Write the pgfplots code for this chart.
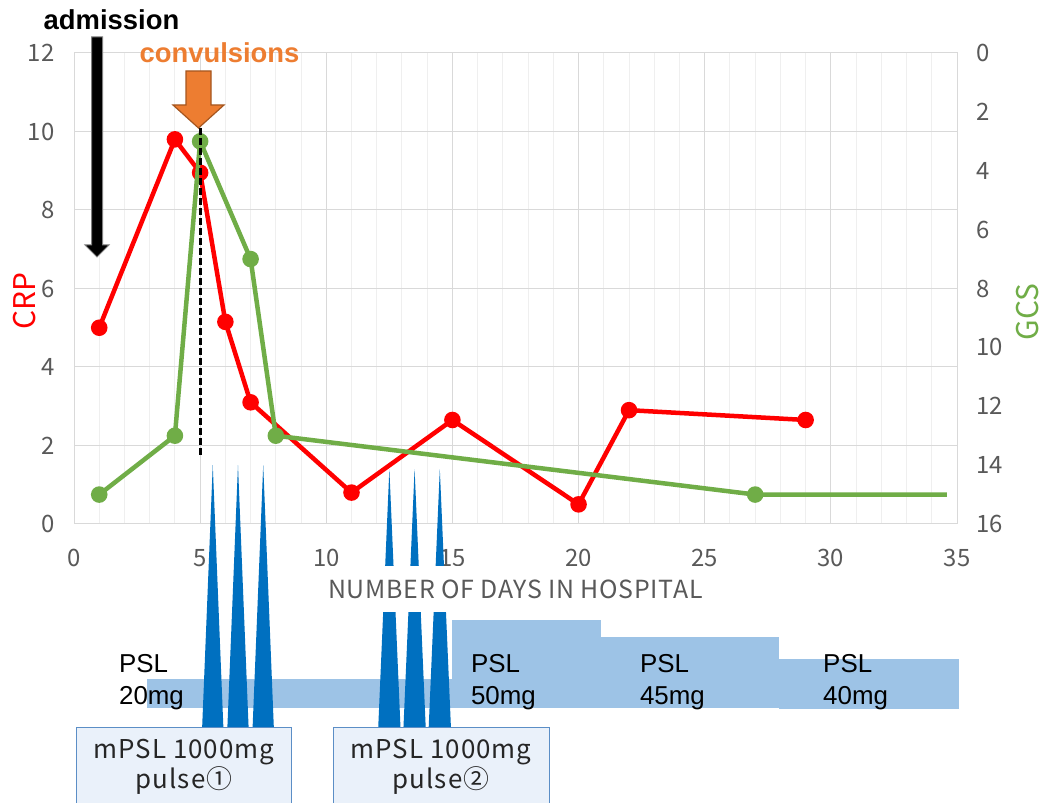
\documentclass[border=0pt]{standalone}
\usepackage{pgfplots}
\pgfplotsset{compat=1.18}
\usepackage{fontspec}
\setmainfont{Liberation Sans}
\newfontfamily\jpfont{Noto Sans CJK JP}

\definecolor{crpred}{HTML}{FF0000}
\definecolor{gcsgreen}{HTML}{70AD47}
\definecolor{tickgray}{HTML}{595959}
\definecolor{gridmajor}{HTML}{D9D9D9}
\definecolor{gridminor}{HTML}{EFEFEF}
\definecolor{convorange}{HTML}{ED7D31}
\definecolor{convedge}{HTML}{A5561F}
\definecolor{pulseblue}{HTML}{0070C0}
\definecolor{pslblue}{HTML}{9DC3E6}
\definecolor{boxfill}{HTML}{EAF1FA}
\definecolor{boxedge}{HTML}{5B8EC6}
\definecolor{boxtext}{HTML}{262626}

\pgfplotsset{
  chartbase/.style={
    at={(74bp,279bp)}, anchor=south west, scale only axis,
    width=883bp, height=471bp, xmin=0, xmax=35,
    tick label style={font=\jpfont\fontsize{24}{24}\selectfont, text=tickgray},
    /pgf/number format/assume math mode=true,
    major tick length=0pt, minor tick length=0pt,
  },
}

\begin{document}
\begin{tikzpicture}
\path[use as bounding box, fill=white] (0,0) rectangle (1041bp,803bp);

% CRP on the left axis
\begin{axis}[chartbase,
  ymin=0, ymax=12, xtick={0,5,...,35}, ytick={0,2,...,12},
  minor x tick num=4,
  xmajorgrids, xminorgrids, ymajorgrids,
  major grid style={draw=gridmajor, line width=1bp},
  minor grid style={draw=gridminor, line width=1bp},
  axis line style={draw=gridmajor, line width=1bp},
  xticklabel style={yshift=-22bp},
  yticklabel style={xshift=-16bp},
  ylabel={CRP},
  ylabel style={font=\jpfont\fontsize{30}{30}\selectfont, text=crpred,
    at={(axis description cs:-0.0555,0.4735)}, anchor=center},
]
\addplot[crpred, line width=4.5bp, mark=*, mark size=6bp]
  coordinates {(1,5) (4,9.8) (5,8.95) (6,5.15) (7,3.1) (11,0.8) (15,2.65) (20,0.5) (22,2.9) (29,2.65)};
\end{axis}

% GCS on the right axis
\begin{axis}[chartbase,
  ymin=0, ymax=16, y dir=reverse, ytick={0,2,...,16},
  axis y line*=right, axis x line=none,
  axis line style={draw=none},
  yticklabel style={anchor=west, xshift=16bp},
  ylabel={GCS},
  ylabel style={font=\jpfont\fontsize{30}{30}\selectfont, text=gcsgreen,
    at={(axis description cs:1.0798,0.45)}, anchor=center},
]
\addplot[gcsgreen, line width=4.5bp, mark=*, mark size=6bp, mark indices={1,2,3,4,5,6}]
  coordinates {(1,15) (4,13) (5,3) (7,7) (8,13) (27,15) (34.6,15)};
\end{axis}

% treatment schedule under the chart (y counts down from the top edge)
\begin{axis}[at={(74bp,0bp)}, anchor=south west, scale only axis,
  width=883bp, height=803bp, xmin=0, xmax=35, ymin=0, ymax=803,
  y dir=reverse, hide axis, clip=false]
% PSL doses
\addplot[fill=pslblue, draw=none] coordinates {(2.89,708) (2.89,679) (14.98,679) (14.98,708)};
\addplot[fill=pslblue, draw=none] coordinates {(14.98,708) (14.98,620) (20.89,620) (20.89,708)};
\addplot[fill=pslblue, draw=none] coordinates {(20.89,708) (20.89,637) (27.94,637) (27.94,708)};
\addplot[fill=pslblue, draw=none] coordinates {(27.94,709) (27.94,659) (35.08,659) (35.08,709)};
% mPSL pulses
\addplot[fill=pulseblue, draw=none] coordinates {(5.08,727) (5.5,465) (5.92,727)};
\addplot[fill=pulseblue, draw=none] coordinates {(6.08,727) (6.5,465) (6.92,727)};
\addplot[fill=pulseblue, draw=none] coordinates {(7.08,727) (7.5,465) (7.92,727)};
\addplot[fill=pulseblue, draw=none] coordinates {(12.06,727) (12.5,469) (12.94,727)};
\addplot[fill=pulseblue, draw=none] coordinates {(13.06,727) (13.5,469) (13.94,727)};
\addplot[fill=pulseblue, draw=none] coordinates {(14.06,727) (14.5,469) (14.94,727)};

\draw[fill=boxfill, draw=boxedge, line width=1bp] (axis cs:0.08,727) rectangle (axis cs:8.64,812);
\draw[fill=boxfill, draw=boxedge, line width=1bp] (axis cs:10.27,727) rectangle (axis cs:18.83,812);
\begin{scope}[every node/.style={font=\jpfont\fontsize{26}{26}\selectfont\addfontfeature{LetterSpace=4}, text=boxtext, anchor=base, inner sep=0pt}]
\node at (axis cs:4.36,758) {mPSL 1000mg};
\node at (axis cs:4.36,788) {pulse①};
\node at (axis cs:14.55,758) {mPSL 1000mg};
\node at (axis cs:14.55,788) {pulse②};
\end{scope}

\begin{scope}[every node/.style={font=\fontsize{26}{26}\selectfont, anchor=base west, inner sep=0pt}]
\node at (axis cs:1.78,672) {PSL};
\node at (axis cs:1.78,704) {20mg};
\node at (axis cs:15.73,672) {PSL};
\node at (axis cs:15.73,704) {50mg};
\node at (axis cs:22.43,672) {PSL};
\node at (axis cs:22.43,704) {45mg};
\node at (axis cs:29.69,672) {PSL};
\node at (axis cs:29.69,704) {40mg};
\end{scope}

\node[font=\jpfont\fontsize{25}{25}\selectfont\addfontfeature{LetterSpace=3}, text=tickgray, fill=white,
  minimum height=46bp, inner xsep=4bp] at (axis cs:17.5,589) {NUMBER OF DAYS IN HOSPITAL};
\end{axis}

% event markers, in picture pixels from the top left
\begin{scope}[shift={(0,803bp)}, x=1bp, y=-1bp]
\draw[black, line width=3bp, dash pattern=on 7bp off 3bp] (200.1,128) -- (200.1,458);
\filldraw[fill=black, draw=gray, line width=1bp]
  (91.5,37) -- (102.5,37) -- (102.5,245) -- (109,245) -- (97,257) -- (85,245) -- (91.5,245) -- cycle;
\filldraw[fill=convorange, draw=convedge, line width=1.2bp]
  (186,71) -- (211,71) -- (211,105) -- (224,105) -- (198.5,128) -- (173,105) -- (186,105) -- cycle;
\node[font=\bfseries\fontsize{27.5}{27.5}\selectfont, anchor=base] at (111.5,30) {admission};
\node[font=\bfseries\fontsize{27.5}{27.5}\selectfont, text=convorange, anchor=base] at (219.5,63) {convulsions};
\end{scope}
\end{tikzpicture}
\end{document}
